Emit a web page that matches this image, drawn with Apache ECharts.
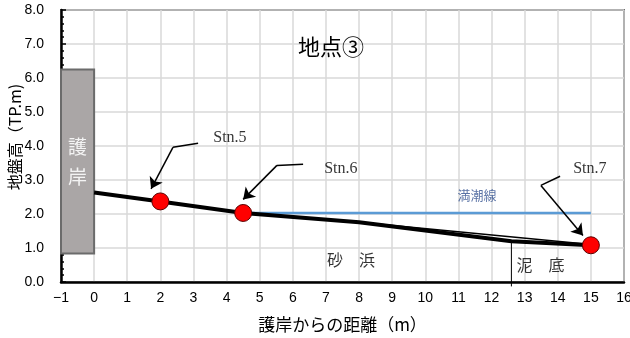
<!DOCTYPE html>
<html>
<head>
<meta charset="utf-8">
<script src="https://cdn.jsdelivr.net/npm/echarts@6/dist/echarts.min.js"></script>
<style>
  html, body { margin: 0; padding: 0; background: #fff; }
  #main { width: 630px; height: 338px; }
</style>
</head>
<body>
<div id="main"></div>
<script>
// 地盤断面 (地点③)
const profileX = [0, 2, 4.5, 8, 12.6, 15];
const profileY = [2.63, 2.37, 2.03, 1.76, 1.2, 1.08];
const thinX = [8, 15];
const thinY = [1.76, 1.1];
const stnNames = ['Stn.5', 'Stn.6', 'Stn.7'];
const stnX = [2, 4.5, 15];
const stnY = [2.37, 2.03, 1.08];
const tideX = [4.5, 15];
const tideY = 2.03;
const wallX = [-1, 0];
const wallY = [0.84, 6.25];
const boundaryX = 12.6;
const boundaryY = [1.2, -0.13];
const xTicks = [-1, 16, 1];
const yTicks = [0, 8, 1];

// 引出線 (データ座標)
const leaders = [
  [[3.14, 4.08], [2.38, 3.96], [1.72, 2.74]],
  [[6.31, 3.46], [5.52, 3.43], [4.50, 2.43]],
  [[14.07, 3.11], [13.49, 2.84], [14.76, 1.37]]
];
const stnLabelPos = [[4.10, 4.25], [7.45, 3.34], [14.97, 3.34]];

const jp = '"Noto Sans CJK JP", sans-serif';
const lat = '"Liberation Sans", Arial, sans-serif';
const serif = '"Liberation Serif", "Times New Roman", serif';

let markLines = [];
leaders.forEach(function (p) {
  markLines.push([{ coord: p[0], symbol: 'none' }, { coord: p[1], symbol: 'none' }]);
  markLines.push([{ coord: p[1], symbol: 'none' }, { coord: p[2], symbol: 'arrow' }]);
});

let myChart = echarts.init(document.getElementById('main'));
myChart.setOption({
  animation: false,
  title: {
    text: '地点③',
    left: 293,
    top: 31,
    textStyle: { fontFamily: jp, fontSize: 22, fontWeight: 'normal', color: '#000' }
  },
  grid: {
    left: 61, right: 6, top: 10, bottom: 56,
    containLabel: false,
    outerBoundsMode: 'none',
    show: true, borderColor: '#000', borderWidth: 1.5
  },
  xAxis: {
    type: 'value',
    min: xTicks[0], max: xTicks[1], interval: xTicks[2],
    name: '護岸からの距離（m）',
    nameLocation: 'middle',
    nameGap: 34,
    nameMoveOverlap: false,
    nameTextStyle: { fontFamily: jp, fontSize: 17, color: '#000' },
    axisLine: { onZero: false, lineStyle: { color: '#000', width: 2.5 } },
    axisTick: { show: false },
    axisLabel: {
      fontFamily: lat, fontSize: 14, color: '#000', margin: 9,
      formatter: function (v) { return v < 0 ? '\u2212' + Math.abs(v) : String(v); }
    },
    splitLine: { show: true, lineStyle: { color: '#d9d9d9', width: 1.5 } }
  },
  yAxis: {
    type: 'value',
    min: yTicks[0], max: yTicks[1], interval: yTicks[2],
    name: '地盤高（TP.m)',
    nameLocation: 'middle',
    nameGap: 38,
    nameMoveOverlap: false,
    nameTextStyle: { fontFamily: jp, fontSize: 16, color: '#000', padding: [0, 0, 0, 18] },
    axisLine: { show: true, onZero: false, lineStyle: { color: '#000', width: 2.5 } },
    axisTick: { show: true, inside: true, length: 5, lineStyle: { color: '#000', width: 1.5 } },
    minorTick: { show: true, splitNumber: 5, length: 3, lineStyle: { color: '#000', width: 1.5 } },
    axisLabel: {
      fontFamily: lat, fontSize: 14, color: '#000', margin: 17,
      formatter: function (v) { return v.toFixed(1); }
    },
    splitLine: { show: true, lineStyle: { color: '#d9d9d9', width: 1.5 } }
  },
  series: [
    {
      // 護岸
      type: 'line',
      data: [],
      silent: true,
      markArea: {
        silent: true,
        itemStyle: { color: '#aaa6a6', borderColor: '#6b6b6b', borderWidth: 2 },
        label: {
          show: true, position: 'inside',
          formatter: '護\n岸',
          fontFamily: jp, fontSize: 19, lineHeight: 30, color: '#f4f4f4'
        },
        data: [[{ coord: [wallX[0], wallY[0]] }, { coord: [wallX[1], wallY[1]] }]]
      }
    },
    {
      name: '満潮線',
      type: 'line',
      data: tideX.map(function (x) { return [x, tideY]; }),
      symbol: 'none',
      lineStyle: { color: '#5b9bd5', width: 2.5 },
      z: 3
    },
    {
      type: 'line',
      data: thinX.map(function (x, i) { return [x, thinY[i]]; }),
      symbol: 'none',
      lineStyle: { color: '#000', width: 1.5 },
      z: 4
    },
    {
      type: 'line',
      data: [[boundaryX, boundaryY[0]], [boundaryX, boundaryY[1]]],
      symbol: 'none',
      clip: false,
      lineStyle: { color: '#000', width: 1 },
      z: 4
    },
    {
      name: '地盤',
      type: 'line',
      data: profileX.map(function (x, i) { return [x, profileY[i]]; }),
      symbol: 'none',
      lineStyle: { color: '#000', width: 4 },
      z: 5
    },
    {
      type: 'scatter',
      data: stnX.map(function (x, i) { return [x, stnY[i], stnNames[i]]; }),
      symbolSize: 17,
      itemStyle: { color: '#ff0000', opacity: 1, borderColor: '#5a0000', borderWidth: 1 },
      z: 6
    },
    {
      // 引出線
      type: 'line',
      data: [],
      markLine: {
        silent: true,
        symbolSize: 11,
        label: { show: false },
        lineStyle: { color: '#000', width: 1.5, type: 'solid' },
        data: markLines
      }
    },
    {
      type: 'scatter',
      symbolSize: 0,
      silent: true,
      label: {
        show: true, position: 'inside',
        formatter: function (p) { return p.value[2]; },
        fontFamily: serif, fontSize: 16, color: '#000'
      },
      data: stnLabelPos.map(function (p, i) { return [p[0], p[1], stnNames[i]]; }),
      z: 7
    },
    {
      type: 'scatter',
      symbolSize: 0,
      silent: true,
      label: {
        show: true, position: 'inside',
        formatter: function (p) { return p.value[2]; },
        fontFamily: jp, fontSize: 16, color: '#000'
      },
      data: [[7.76, 0.64, '砂\u3000浜'], [13.48, 0.49, '泥\u3000底']],
      z: 7
    },
    {
      type: 'scatter',
      symbolSize: 0,
      silent: true,
      label: {
        show: true, position: 'inside',
        formatter: function (p) { return p.value[2]; },
        fontFamily: jp, fontSize: 13, color: '#2f4f8f'
      },
      data: [[11.56, 2.55, '満潮線']],
      z: 7
    }
  ]
});
</script>
</body>
</html>
